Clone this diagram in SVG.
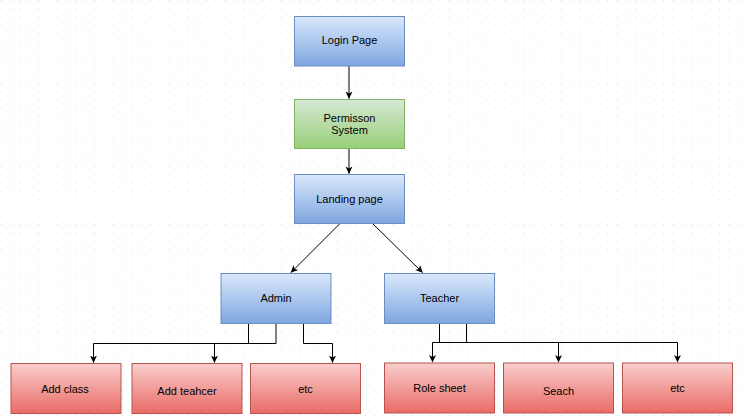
<svg xmlns="http://www.w3.org/2000/svg" width="745" height="419" viewBox="0 0 745 419">
<defs>
<pattern id="grid" x="0.7" y="0" width="9.33" height="8.3" patternUnits="userSpaceOnUse">
<rect x="0" y="0" width="1" height="1" fill="#d8d8d8"/>
</pattern>
<linearGradient id="gBlue" x1="0" y1="0" x2="0" y2="1"><stop offset="0" stop-color="#dae8fc"/><stop offset="1" stop-color="#7ea6e0"/></linearGradient>
<linearGradient id="gGreen" x1="0" y1="0" x2="0" y2="1"><stop offset="0" stop-color="#d5e8d4"/><stop offset="1" stop-color="#97d077"/></linearGradient>
<linearGradient id="gRed" x1="0" y1="0" x2="0" y2="1"><stop offset="0" stop-color="#f8cecc"/><stop offset="1" stop-color="#ea6b66"/></linearGradient>
<marker id="arr" markerWidth="8" markerHeight="8" viewBox="0 0 8 8" refX="7" refY="4" orient="auto" markerUnits="userSpaceOnUse">
<path d="M0,0.5 L7.5,4 L0,7.5 L2,4 Z" fill="#000"/>
</marker>
</defs>
<style>
.blue{fill:url(#gBlue);stroke:#6c8ebf;stroke-width:1}
.green{fill:url(#gGreen);stroke:#82b366;stroke-width:1}
.red{fill:url(#gRed);stroke:#b85450;stroke-width:1}
text{font-family:"Liberation Sans",Arial,sans-serif;font-size:11px;fill:#000;text-anchor:middle}
.e{fill:none;stroke:#000;stroke-width:1;marker-end:url(#arr)}
.l{fill:none;stroke:#000;stroke-width:1}
</style>
<rect width="745" height="419" fill="#fff"/>
<rect width="745" height="419" fill="url(#grid)"/>
<g id="connectors">
<line class="e" x1="349" y1="66" x2="349" y2="98.5"/>
<line class="e" x1="349" y1="149" x2="349" y2="173.5"/>
<line class="e" x1="340" y1="223.5" x2="291" y2="272.5"/>
<line class="e" x1="372.5" y1="223.5" x2="422.5" y2="272.5"/>
<polyline class="e" points="248.5,323.5 248.5,343.5 93.5,343.5 93.5,362.5"/>
<polyline class="e" points="276,323.5 276,343.5 214.5,343.5 214.5,362.5"/>
<polyline class="e" points="303.5,323.5 303.5,343.5 332.5,343.5 332.5,362.5"/>
<polyline class="e" points="466.5,323.5 466.5,342.5 432.5,342.5 432.5,362"/>
<polyline class="e" points="439.5,323.5 439.5,342.5 558.5,342.5 558.5,362"/>
<polyline class="e" points="439.5,342.5 677.5,342.5 677.5,362"/>
</g>
<g id="login"><rect class="blue" x="294.5" y="16.5" width="110" height="49.5"/><text x="349.5" y="44">Login Page</text></g>
<g id="permission"><rect class="green" x="294.5" y="99.5" width="110" height="49"/><text x="349.5" y="122">Permisson</text><text x="349.5" y="134">System</text></g>
<g id="landing"><rect class="blue" x="294.5" y="174.5" width="110" height="49"/><text x="349.5" y="203">Landing page</text></g>
<g id="admin"><rect class="blue" x="221" y="273.5" width="110" height="50"/><text x="276" y="302">Admin</text></g>
<g id="teacher"><rect class="blue" x="384.5" y="273.5" width="110" height="50"/><text x="439.5" y="302">Teacher</text></g>
<g id="addclass"><rect class="red" x="11" y="363.5" width="110" height="50"/><text x="65" y="393">Add class</text></g>
<g id="addteacher"><rect class="red" x="132" y="363.5" width="110" height="50"/><text x="187" y="395">Add teahcer</text></g>
<g id="etc1"><rect class="red" x="250.5" y="363.5" width="110" height="50"/><text x="305.5" y="393">etc</text></g>
<g id="rolesheet"><rect class="red" x="384.5" y="363" width="110" height="50"/><text x="439.5" y="392">Role sheet</text></g>
<g id="seach"><rect class="red" x="503.5" y="363" width="110" height="50"/><text x="558.5" y="395">Seach</text></g>
<g id="etc2"><rect class="red" x="622.5" y="363" width="110" height="50"/><text x="677.5" y="392">etc</text></g>
</svg>
